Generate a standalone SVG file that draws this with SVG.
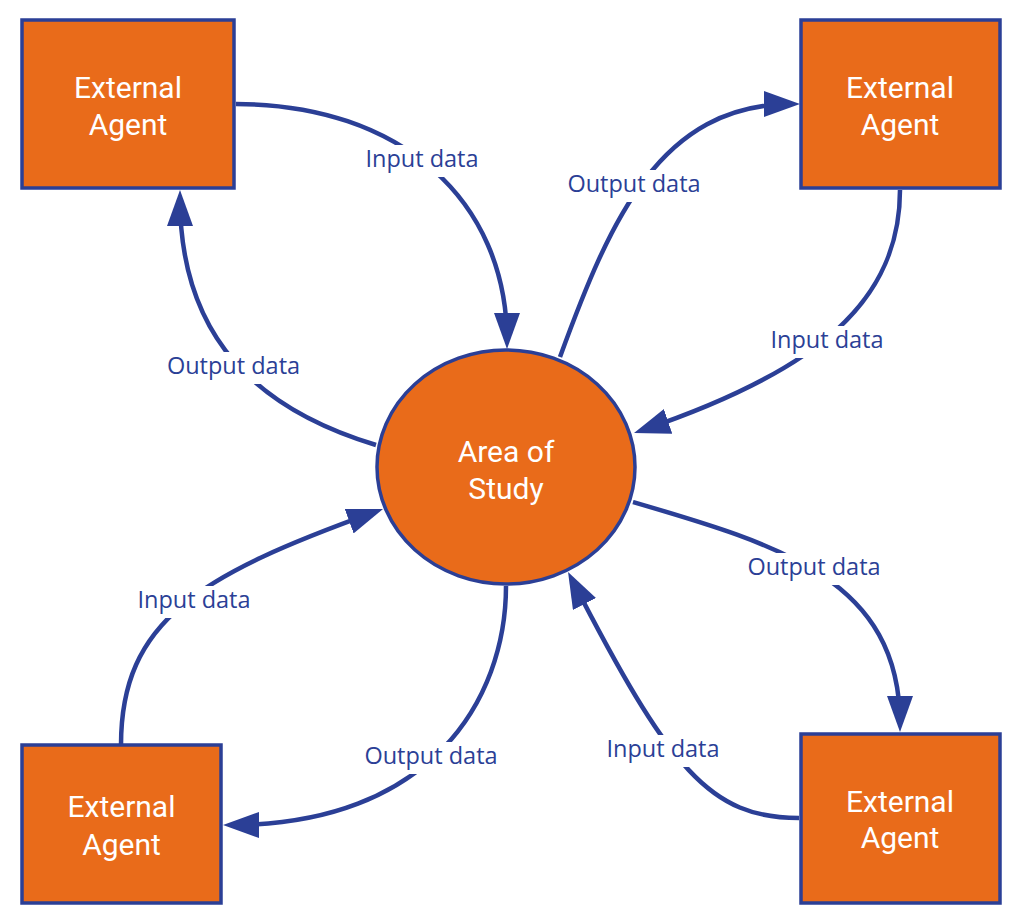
<svg xmlns="http://www.w3.org/2000/svg" width="1024" height="922" viewBox="0 0 1024 922">
<style>
.box{fill:#e96b1a;stroke:#2b3f96;stroke-width:3.5}
.nt{font-family:Roboto,"Liberation Sans",sans-serif;font-size:30px;fill:#ffffff;text-anchor:middle}
.conn{fill:none;stroke:#2b3f96;stroke-width:4.5;marker-end:url(#arr)}
.lbg{fill:#ffffff}
.lt{font-family:"Open Sans","Noto Sans",sans-serif;font-size:23.5px;fill:#2b3f96;text-anchor:middle}
</style>
<defs>
<marker id="arr" viewBox="0 0 36 26" refX="28" refY="13" markerWidth="36" markerHeight="26" markerUnits="userSpaceOnUse" orient="auto">
<path d="M0,0 L36,13 L0,26 z" fill="#2b3f96"/>
</marker>
</defs>
<rect width="1024" height="922" fill="#ffffff"/>
<g id="connectors">
<path class="conn" d="M236,104 C400,104 507,200 507,341"/>
<path class="conn" d="M376,445 C260,410 180,340 180,198"/>
<path class="conn" d="M560,357 C610,220 660,104 792,104"/>
<path class="conn" d="M900,190 C900,300 820,370 641.6,430.4"/>
<path class="conn" d="M121,745 C121,620 200,575 375.5,511.7"/>
<path class="conn" d="M506,586 C506,700 430,825 231,825"/>
<path class="conn" d="M633,502 C780,545 900,580 900,724"/>
<path class="conn" d="M799,818 C710,818 670,770 571.7,579.1"/>
</g>
<g id="labels">
<g id="l1"><rect class="lbg" x="361" y="145" width="122" height="32"/><text class="lt" x="422" y="167">Input data</text></g>
<g id="l2"><rect class="lbg" x="162" y="352" width="143" height="32"/><text class="lt" x="233.5" y="374">Output data</text></g>
<g id="l3"><rect class="lbg" x="562" y="170" width="144" height="32"/><text class="lt" x="634" y="192">Output data</text></g>
<g id="l4"><rect class="lbg" x="766" y="326" width="122" height="32"/><text class="lt" x="827" y="348">Input data</text></g>
<g id="l5"><rect class="lbg" x="133" y="586" width="122" height="32"/><text class="lt" x="194" y="608">Input data</text></g>
<g id="l6"><rect class="lbg" x="359" y="742" width="144" height="32"/><text class="lt" x="431" y="764">Output data</text></g>
<g id="l7"><rect class="lbg" x="742" y="553" width="144" height="32"/><text class="lt" x="814" y="575">Output data</text></g>
<g id="l8"><rect class="lbg" x="602" y="735" width="122" height="32"/><text class="lt" x="663" y="757">Input data</text></g>
</g>
<g id="agent-tl"><rect class="box" x="22" y="20" width="212" height="168"/><text class="nt" x="128" y="98">External</text><text class="nt" x="128" y="135">Agent</text></g>
<g id="agent-tr"><rect class="box" x="801" y="20" width="199" height="168"/><text class="nt" x="900" y="98">External</text><text class="nt" x="900" y="135">Agent</text></g>
<g id="agent-bl"><rect class="box" x="22" y="745" width="199" height="158"/><text class="nt" x="121.5" y="817">External</text><text class="nt" x="121.5" y="855">Agent</text></g>
<g id="agent-br"><rect class="box" x="801" y="734" width="199" height="169"/><text class="nt" x="900" y="812">External</text><text class="nt" x="900" y="848">Agent</text></g>
<g id="area"><ellipse class="box" cx="506" cy="467" rx="129" ry="117" stroke-width="3"/><text class="nt" x="506" y="462">Area of</text><text class="nt" x="506" y="499">Study</text></g>
</svg>
